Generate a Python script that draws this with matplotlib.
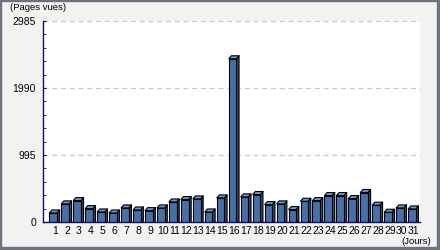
import numpy as np
import matplotlib.pyplot as plt
from matplotlib.collections import PolyCollection
from matplotlib.patches import Rectangle

# pages vues par jour
days = np.arange(1, 32)
views = [134, 269, 318, 199, 149, 134, 209, 179, 169, 209, 298, 333, 343, 149, 358,
         2424, 373, 408, 258, 269, 184, 308, 318, 393, 393, 348, 438, 250, 145, 209, 194]
yticks = [0, 995, 1990, 2985]
ylabel = '(Pages vues)'
xlabel = '(Jours)'

front = '#4670a6'
side = '#2a4a78'
top = '#7296c6'
navy = '#101070'

plt.rcParams['font.family'] = ['Liberation Sans', 'DejaVu Sans']

fig = plt.figure(figsize=(4.4, 2.5), dpi=100)
fig.patch.set_facecolor('#f2f2f2')

ax = fig.add_axes([43/440, 28/250, 377/440, 201/250])
ax.set_facecolor('white')
ax.set_xlim(0, 31.52)
ax.set_ylim(0, yticks[-1])

w = 0.64
dx = 0.22
dy = 3 * yticks[-1] / 201.

x0 = days - 0.47
x1 = x0 + w
ax.bar(x0, views, width=w, align='edge', color=front, edgecolor='black', linewidth=0.8, zorder=3)

sides = []
tops = []
for a, b, v in zip(x0, x1, views):
    sides.append([(b, 0), (b + dx, 0), (b + dx, v + dy), (b, v)])
    tops.append([(a, v), (a + dx, v + dy), (b + dx, v + dy), (b, v)])
ax.add_collection(PolyCollection(sides, facecolors=side, edgecolors='black', linewidths=0.8, zorder=2))
ax.add_collection(PolyCollection(tops, facecolors=top, edgecolors='black', linewidths=0.8, zorder=4))

ax.set_yticks(yticks)
ax.set_yticklabels([str(t) for t in yticks], fontsize=7.5)
ax.set_yticks(np.arange(0, yticks[-1] + 1, 199), minor=True)
ax.tick_params(axis='y', which='both', direction='in', length=2.5, color=navy, pad=5)
ax.set_xticks(days)
ax.set_xticklabels([str(d) for d in days], fontsize=7.5)
ax.tick_params(axis='x', length=0, pad=3)

for s in ['top', 'right']:
    ax.spines[s].set_visible(False)
for s in ['left', 'bottom']:
    ax.spines[s].set_color(navy)
    ax.spines[s].set_linewidth(1.0)
    ax.spines[s].set_zorder(5)

for t in yticks[1:]:
    ax.axhline(t, color='#c8c8c8', linestyle=(0, (4, 3)), linewidth=0.9, zorder=1, clip_on=False)

fig.text(10/440, 1 - 7/250, ylabel, fontsize=6.8, va='center', ha='left')
fig.text(431/440, 1 - 241/250, xlabel, fontsize=6.8, va='center', ha='right')

# cadre
border = '#6f7181'
fig.patches.append(Rectangle((0, 0), 1, 3/250, transform=fig.transFigure, color=border))
fig.patches.append(Rectangle((437/440, 0), 3/440, 1, transform=fig.transFigure, color=border))
fig.patches.append(Rectangle((0, 0), 1/440, 1, transform=fig.transFigure, color=border))
fig.patches.append(Rectangle((0, 1 - 1/250), 1, 1/250, transform=fig.transFigure, color=border))

fig.savefig('out.png', dpi=100, facecolor=fig.get_facecolor())
